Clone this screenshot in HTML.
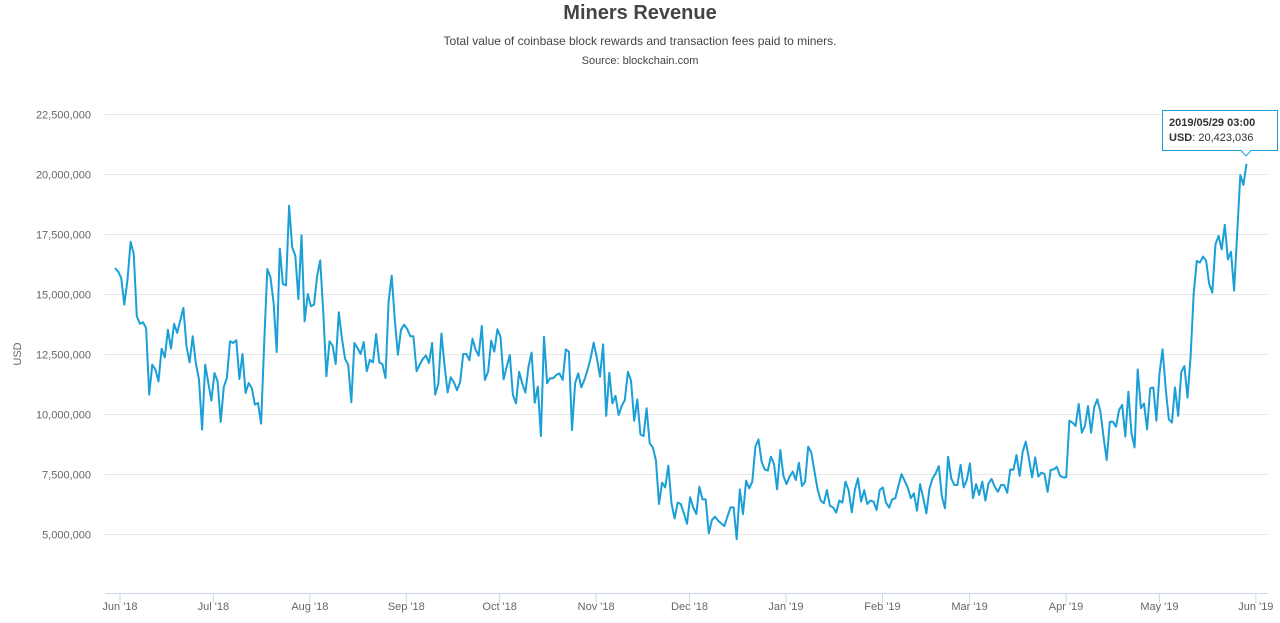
<!DOCTYPE html>
<html><head><meta charset="utf-8"><style>
html,body{margin:0;padding:0;background:#fff;}
body{width:1280px;height:618px;overflow:hidden;font-family:"Liberation Sans",sans-serif;}
</style></head><body>
<svg id="chart" width="1280" height="618" xmlns="http://www.w3.org/2000/svg" font-family="Liberation Sans, sans-serif">
<text x="640" y="19" text-anchor="middle" font-size="20" font-weight="bold" fill="#444">Miners Revenue</text>
<text x="640" y="45" text-anchor="middle" font-size="12" fill="#444">Total value of coinbase block rewards and transaction fees paid to miners.</text>
<text x="640" y="64" text-anchor="middle" font-size="11" fill="#444">Source: blockchain.com</text>
<text transform="translate(21,354) rotate(-90)" text-anchor="middle" font-size="11" fill="#666">USD</text>
<g id="grid"></g><g id="yticks"></g><g id="xticks"></g>
<line x1="105" y1="593.5" x2="1268" y2="593.5" stroke="#ccd6eb" stroke-width="1"/>
<path id="series" fill="none" stroke="#1a9fd6" stroke-width="2" stroke-linejoin="round"/>
<g>
<path d="M1162.5,110.5 H1277.5 V150.5 H1251 L1246,156 L1241,150.5 H1162.5 Z" fill="#fff" fill-opacity="0.95" stroke="#1a9fd6" stroke-width="1"/>
<text x="1169" y="126" font-size="11" font-weight="bold" fill="#333">2019/05/29 03:00</text>
<text x="1169" y="141" font-size="11" fill="#333"><tspan font-weight="bold">USD</tspan>: 20,423,036</text>
</g>
</svg>
<script>
const yTicks=[5000000,7500000,10000000,12500000,15000000,17500000,20000000,22500000];
const xTickLabels=["Jun '18","Jul '18","Aug '18","Sep '18","Oct '18","Nov '18","Dec '18","Jan '19","Feb '19","Mar '19","Apr '19","May '19","Jun '19"];
const xTickDays=[0,30,61,92,122,153,183,214,245,273,304,334,365];
const startDay=-1.6, endDay=362;
const values=[16.08,15.94,15.67,14.56,15.6,17.17,16.68,14.07,13.76,13.82,13.58,10.81,12.06,11.85,11.36,12.72,12.36,13.51,12.72,13.76,13.38,13.9,14.42,12.82,12.15,13.24,12.13,11.43,9.35,12.06,11.29,10.56,11.71,11.36,9.67,11.13,11.5,13.03,12.96,13.07,11.46,12.5,10.88,11.29,11.08,10.39,10.46,9.60,12.96,16.04,15.71,14.63,12.58,16.89,15.42,15.36,18.68,16.94,16.6,
14.79,17.44,13.86,15.0,14.49,14.56,15.74,16.4,14.21,11.57,13.03,12.85,12.08,14.24,13.15,12.29,12.06,10.49,12.96,12.75,12.5,13.0,11.78,12.26,12.15,13.33,12.15,12.08,11.5,14.69,15.76,13.92,12.47,13.51,13.72,13.54,13.24,13.24,11.78,12.06,12.29,12.44,12.13,12.96,10.81,11.25,13.35,12.06,10.9,11.53,11.32,10.99,11.32,12.5,12.5,12.24,13.14,12.68,12.43,
13.67,11.42,11.76,13.06,12.6,13.53,13.22,11.44,11.97,12.46,10.79,10.44,11.76,11.28,10.89,11.97,12.56,10.47,11.14,9.08,13.22,11.28,11.49,11.49,11.63,11.69,11.42,12.69,12.6,9.33,11.28,11.69,11.11,11.42,11.83,12.32,12.97,12.32,11.56,12.9,9.92,11.72,10.44,10.76,9.96,10.33,10.58,11.76,11.39,9.72,10.61,9.15,9.08,10.24,8.78,8.61,8.08,6.25,7.14,6.94,7.85,6.28,5.65,
6.31,6.25,5.86,5.42,6.53,6.11,5.83,6.97,6.44,6.44,5.03,5.58,5.72,5.56,5.44,5.33,5.72,6.11,6.11,4.78,6.86,5.83,7.22,6.9,7.18,8.64,8.94,8.01,7.69,7.64,8.22,7.92,6.86,8.5,7.42,7.08,7.39,7.6,7.25,7.97,7.0,7.18,8.64,8.39,7.6,6.86,6.39,6.28,6.83,6.17,6.11,5.89,6.39,6.31,7.18,6.83,5.9,6.86,7.32,6.35,6.83,6.25,
6.39,6.35,6.0,6.83,6.94,6.31,6.1,6.44,6.49,7.0,7.49,7.22,6.94,6.49,6.69,5.97,7.08,6.49,5.86,6.9,7.32,7.53,7.83,6.56,6.07,8.22,7.32,7.04,7.04,7.88,6.94,7.25,7.94,6.49,7.08,6.63,7.18,6.39,7.11,7.29,6.97,6.76,7.04,7.04,6.72,7.69,7.67,8.29,7.42,8.43,8.85,8.15,7.36,8.19,7.39,7.56,7.5,6.76,
7.67,7.69,7.8,7.42,7.36,7.36,9.72,9.64,9.5,10.42,9.22,9.5,10.33,9.22,10.28,10.61,10.1,9.06,8.08,9.68,9.68,9.47,10.17,10.38,9.06,10.93,9.19,8.61,11.86,10.24,10.44,9.36,11.07,11.11,9.72,11.69,12.69,11.07,9.78,9.64,11.11,9.92,11.76,12.0,10.68,12.39,15.03,16.38,16.31,16.56,16.39,15.42,15.06,17.08,17.42,16.86,17.88,16.44,16.76,15.14,17.53,19.96,19.54,20.423036];
const NS="http://www.w3.org/2000/svg";
function yScale(v){return 594-(v-2500000)*(60/2500000);}
function xScale(d){return 120+d*3.112;}
const grid=document.getElementById('grid'),yg=document.getElementById('yticks'),xg=document.getElementById('xticks');
yTicks.forEach(t=>{
  const y=Math.round(yScale(t))+0.5;
  const l=document.createElementNS(NS,'line');
  
  
  l.setAttribute('x1',105);l.setAttribute('x2',1268);l.setAttribute('y1',y);l.setAttribute('y2',y);
  l.setAttribute('stroke','#e6e6e6');grid.appendChild(l);
  const tx=document.createElementNS(NS,'text');
  
  
  tx.setAttribute('x',91);tx.setAttribute('y',y+4);tx.setAttribute('text-anchor','end');
  tx.setAttribute('font-size','11');tx.setAttribute('fill','#666');
  tx.textContent=t.toLocaleString('en-US');yg.appendChild(tx);
});
xTickLabels.forEach((s,i)=>{
  const x=xScale(xTickDays[i]);
  const l=document.createElementNS(NS,'line');
  
  
  l.setAttribute('x1',x);l.setAttribute('x2',x);l.setAttribute('y1',593);l.setAttribute('y2',603);
  l.setAttribute('stroke','#ccd6eb');xg.appendChild(l);
  const tx=document.createElementNS(NS,'text');
  
  
  tx.setAttribute('x',x);tx.setAttribute('y',610);tx.setAttribute('text-anchor','middle');
  tx.setAttribute('font-size','11');tx.setAttribute('fill','#666');
  tx.textContent=s;xg.appendChild(tx);
});
const n=values.length;let d='';
values.forEach((v,i)=>{
  const day=startDay+(endDay-startDay)*i/(n-1);
  d+=(i?'L':'M')+xScale(day).toFixed(1)+','+yScale(v*1e6).toFixed(1);
});
document.getElementById('series').setAttribute('d',d);
</script>
</body></html>
